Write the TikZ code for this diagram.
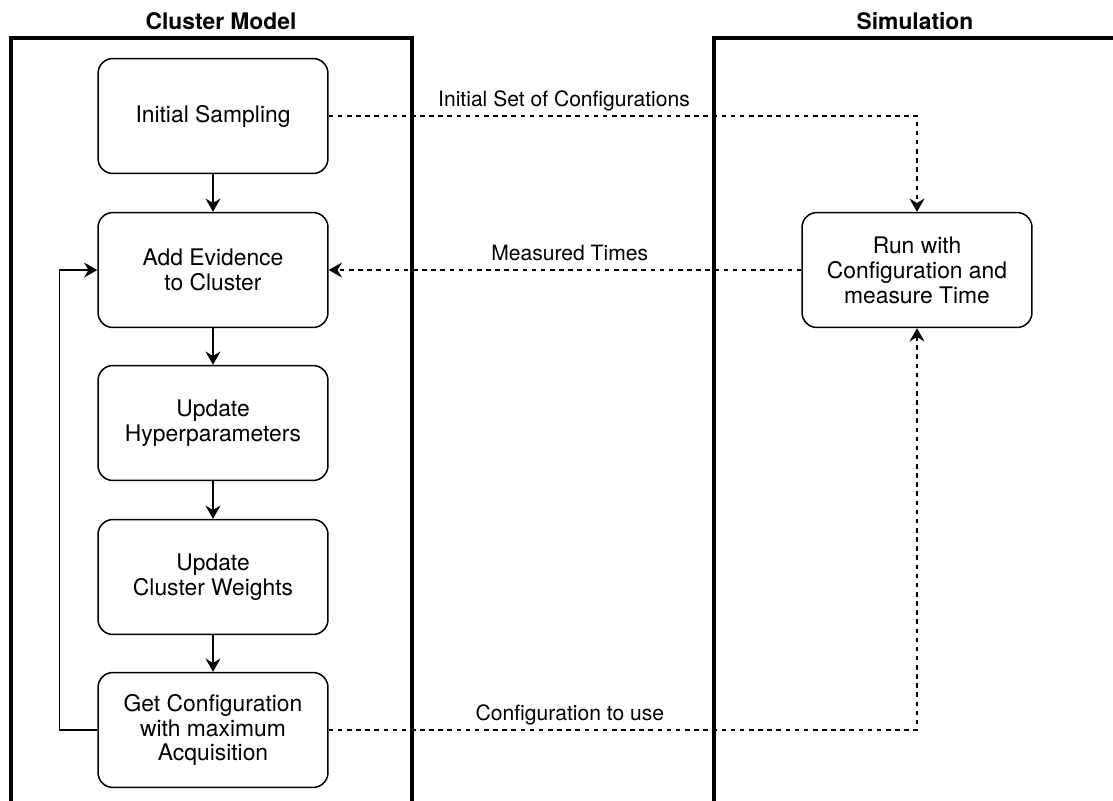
\documentclass[tikz,border=0pt]{standalone}
\usepackage{fontspec}
\setmainfont{TeX Gyre Heros}
\usetikzlibrary{arrows.meta,positioning}

\begin{document}
\begin{tikzpicture}[x=0.02cm, y=-0.02cm,
    stepbox/.style={draw, rounded corners=0.3cm, line width=0.85pt, minimum width=4.6cm, minimum height=2.3cm, align=center, font=\fontsize{13}{14.2}\selectfont},
    lane/.style={line width=1.8pt},
    lanetitle/.style={font=\bfseries\fontsize{13}{15}\selectfont},
    flow/.style={line width=0.85pt, -{Stealth[length=7.5pt, width=8.5pt, inset=2.5pt]}},
    dflow/.style={flow, dash pattern=on 2.6pt off 2.6pt},
    lbl/.style={font=\fontsize{12}{14}\selectfont, above, inner sep=5pt, text depth=0pt}]

    \useasboundingbox (0,0) rectangle (1113,801);

    \draw[lane] (11,801) |- (412,38) -- (412,801);
    \draw[lane] (1113,38) -| (714,801);
    \node[lanetitle] (cmtitle) at (221,21) {Cluster Model};
    \node[lanetitle] (simtitle) at (915,21) {Simulation};

    \node[stepbox] (init)    at (213,116) {Initial Sampling};
    \node[stepbox] (evid)    at (213,270) {Add Evidence\\to Cluster};
    \node[stepbox] (hyper)   at (213,423) {Update\\Hyperparameters};
    \node[stepbox] (weights) at (213,577) {Update\\Cluster Weights};
    \node[stepbox] (getcfg)  at (213,730) {Get Configuration\\with maximum\\Acquisition};
    \node[stepbox] (run)     at (917,270) {Run with\\Configuration and\\measure Time};

    \path[flow]
        (init) edge (evid)
        (evid) edge (hyper)
        (hyper) edge (weights)
        (weights) edge (getcfg);

    \draw[flow] (getcfg.west) -- ++(-38,0) |- (evid.west);

    \draw[dflow] (init.east) -| node[lbl, pos=0.2] {Initial Set of Configurations} (run.north);
    \draw[dflow] (run.west) -- node[lbl, pos=0.49] {Measured Times} (evid.east);
    \draw[dflow] (getcfg.east) -| node[lbl, pos=0.205] {Configuration to use} (run.south);

\end{tikzpicture}
\end{document}
